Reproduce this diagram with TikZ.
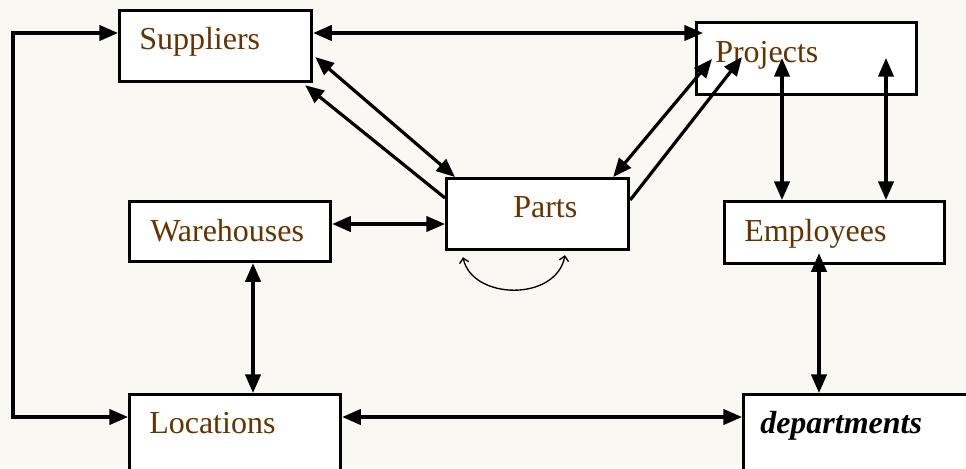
\documentclass[tikz,border=0pt]{standalone}
\usepackage{fontspec}
\setmainfont{Liberation Serif}
\usetikzlibrary{arrows.meta,calc}
\definecolor{bgc}{RGB}{250,248,242}
\definecolor{txtc}{RGB}{102,51,0}
\begin{document}
\begin{tikzpicture}[x=0.75pt,y=-0.75pt,
  box/.style={draw, fill=white, line width=2.4pt, inner sep=0pt, anchor=north west},
  lbl/.style={anchor=base west, inner sep=0pt, text=txtc, font=\fontsize{24}{28}\selectfont},
  conn/.style={line width=2.4pt, {Triangle[length=14pt,width=11.5pt]}-{Triangle[length=14pt,width=11.5pt]}},
  connr/.style={line width=2.4pt, -{Triangle[length=14pt,width=11.5pt]}},
  loopc/.style={line width=1pt, {Straight Barb[length=3.5pt,width=7pt]}-{Straight Barb[length=3.5pt,width=7pt]}}]
\useasboundingbox (0,0) rectangle (966,468);
\fill[bgc] (0,0) rectangle (966,468);
\begin{scope}
\clip (0,0) rectangle (966,468);
% boxes
\node[box, minimum width=144pt, minimum height=53.25pt] (sup) at (118,9) {};
\node[box, minimum width=165pt, minimum height=54pt] (proj) at (695,21) {};
\node[box, minimum width=136.5pt, minimum height=53.25pt] (parts) at (445,177) {};
\node[box, minimum width=150.75pt, minimum height=45pt] (ware) at (128,200) {};
\node[box, minimum width=165pt, minimum height=46.5pt] (emp) at (723,200) {};
\node[box, minimum width=158.25pt, minimum height=63.75pt] (loc) at (128,393) {};
\node[box, minimum width=178.5pt, minimum height=63.75pt] (dept) at (742,393) {};
% labels
\node[lbl] (supT) at (139,49) {Suppliers};
\node[lbl] (projT) at (715,62) {Projects};
\node[lbl] (partsT) at (513,217) {Parts};
\node[lbl] (wareT) at (150,241) {Warehouses};
\node[lbl] (empT) at (744,241) {Employees};
\node[lbl] (locT) at (149,433) {Locations};
\node[lbl, text=black, font=\fontsize{24}{28}\selectfont\bfseries\itshape] (deptT) at (760,433) {departments};
% connectors
\draw[conn] ($(sup.north east)+(0,24)$) -- ($(proj.north west)+(8,12)$);
\draw[conn] ($(sup.north east)+(2,48)$) -- ($(parts.north west)+(10,0)$);
\draw[connr] ($(parts.north west)+(0,21)$) -- ($(sup.south east)+(-8,2)$);
\draw[conn] ($(parts.north east)+(-17,0)$) -- ($(proj.north west)+(17,38)$);
\draw[connr] ($(parts.north east)+(0,23)$) -- ($(proj.north west)+(47,36)$);
\draw[conn] ($(proj.north west)+(87,37)$) -- ($(emp.north west)+(59,0)$);
\draw[conn] ($(proj.north west)+(191,37)$) -- ($(emp.north west)+(163,0)$);
\draw[conn] ($(ware.north east)+(0,24)$) -- ($(parts.north west)+(0,47)$);
\draw[conn] ($(ware.south west)+(125,0)$) -- ($(loc.north west)+(125,0)$);
\draw[conn] ($(emp.south west)+(96,-12)$) -- ($(dept.north west)+(77,0)$);
\draw[conn] ($(loc.north east)+(0,24)$) -- ($(dept.north west)+(0,24)$);
\coordinate (lt) at (13,33);
\coordinate (lb) at (13,417);
\draw[conn] ($(loc.north west)+(0,24)$) -- (lb) -- (lt) -- ($(sup.north west)+(0,24)$);
% self loop on Parts
\draw[loopc] ($(parts.south west)+(18,6)$) .. controls (472,300) and (556,302) .. ($(parts.south west)+(120,4)$);
\end{scope}
\end{tikzpicture}
\end{document}
